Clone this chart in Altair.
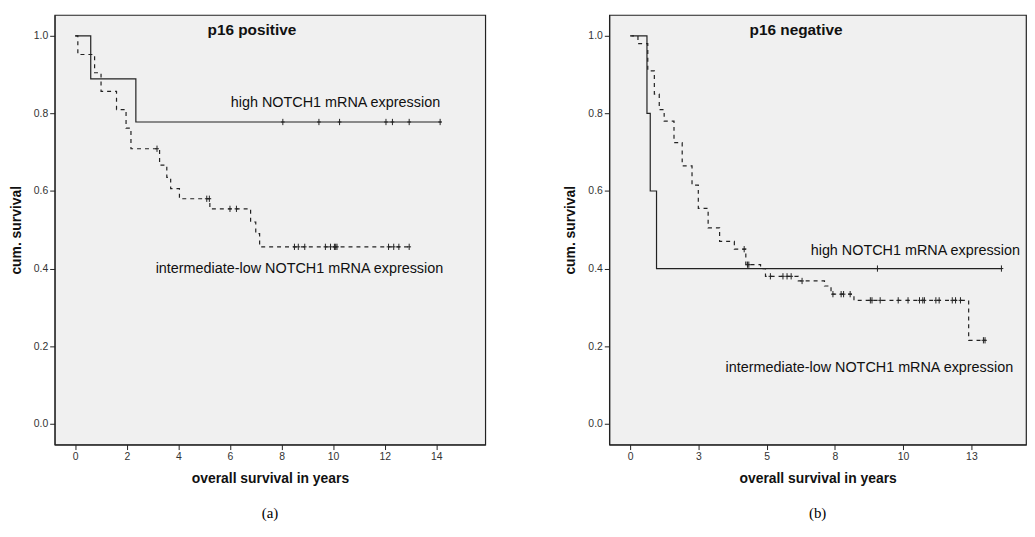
import altair as alt
import pandas as pd

# p16 positive
a_high_t = [0.0, 0.6, 2.35, 14.2]
a_high_s = [1.0, 0.889, 0.778, 0.778]
a_high_cens = [8.05, 9.45, 10.25, 12.05, 12.3, 12.95, 14.15]
a_low_t = [0.0, 0.1, 0.75, 1.0, 1.6, 1.97, 2.16, 3.27, 3.55, 3.7, 4.04, 5.22, 6.8, 7.0, 7.15, 12.95]
a_low_s = [1.0, 0.952, 0.905, 0.857, 0.81, 0.762, 0.709, 0.667, 0.635, 0.606, 0.58, 0.554, 0.52, 0.49, 0.456, 0.456]
a_low_cens = [3.17, 5.1, 5.2, 6.0, 6.25, 8.5, 8.65, 8.9, 9.7, 9.9, 10.05, 10.1, 10.15, 12.15, 12.35, 12.55, 12.95]
a_low_cens_s = [0.709, 0.58, 0.58, 0.554, 0.554] + [0.456] * 12

# p16 negative
b_high_t = [0.05, 0.62, 0.74, 0.97, 13.6]
b_high_s = [1.0, 0.8, 0.6, 0.4, 0.4]
b_high_cens = [9.06, 13.6]
b_low_t = [0.0, 0.29, 0.65, 0.89, 1.07, 1.25, 1.61, 1.91, 2.27, 2.5, 2.86, 3.28, 3.82, 4.24,
           4.78, 4.96, 6.16, 7.12, 7.36, 8.2, 12.4, 13.02]
b_low_s = [1.0, 0.98, 0.91, 0.85, 0.81, 0.78, 0.725, 0.665, 0.615, 0.555, 0.505, 0.47, 0.45, 0.41,
           0.40, 0.38, 0.368, 0.355, 0.334, 0.318, 0.215, 0.215]
b_low_cens = [4.18, 4.3, 4.35, 5.14, 5.6, 5.75, 5.9, 6.3, 7.43, 7.73, 7.82, 8.06, 8.8, 8.86, 9.16,
              9.82, 10.18, 10.6, 10.72, 10.78, 11.2, 11.32, 11.8, 11.92, 12.1, 12.94, 13.0]
b_low_cens_s = [0.45, 0.41, 0.41, 0.38, 0.38, 0.38, 0.38, 0.368, 0.334, 0.334, 0.334, 0.334] + [0.318] * 13 + [0.215, 0.215]

labels = {
    "a": [("p16 positive", 6.85, 1.015, "center", True),
          ("high NOTCH1 mRNA expression", 14.15, 0.826, "right", False),
          ("intermediate-low NOTCH1 mRNA expression", 14.27, 0.399, "right", False)],
    "b": [("p16 negative", 6.08, 1.015, "center", True),
          ("high NOTCH1 mRNA expression", 14.28, 0.445, "right", False),
          ("intermediate-low NOTCH1 mRNA expression", 14.03, 0.143, "right", False)],
}


def panel(name, ht, hs, hc, lt, ls, lc, lcs, xdom, ticks, width, caption):
    x = alt.X("t:Q", scale=alt.Scale(domain=xdom, nice=False, zero=False),
              axis=alt.Axis(values=ticks, format=".0f", title="overall survival in years"))
    y = alt.Y("s:Q", scale=alt.Scale(domain=[-0.054, 1.054], nice=False),
              axis=alt.Axis(values=[0, 0.2, 0.4, 0.6, 0.8, 1.0], format=".1f", title="cum. survival"))
    high = alt.Chart(pd.DataFrame({"t": ht, "s": hs})).mark_line(
        interpolate="step-after", color="#222", strokeWidth=1.2).encode(x=x, y=y)
    low = alt.Chart(pd.DataFrame({"t": lt, "s": ls})).mark_line(
        interpolate="step-after", color="#222", strokeWidth=1.2, strokeDash=[4, 4]).encode(x=x, y=y)
    cross = dict(shape="M0,-1V1M-0.6,0H0.6", filled=False, color="#222", strokeWidth=1, size=40, opacity=1)
    hcen = alt.Chart(pd.DataFrame({"t": hc, "s": [hs[-1]] * len(hc)})).mark_point(**cross).encode(x=x, y=y)
    lcen = alt.Chart(pd.DataFrame({"t": lc, "s": lcs})).mark_point(**cross).encode(x=x, y=y)
    layers = [high, low, hcen, lcen]
    for txt, tx, ty, al, bold in labels[name]:
        layers.append(alt.Chart(pd.DataFrame({"t": [tx], "s": [ty], "txt": [txt]})).mark_text(
            align=al, baseline="middle", font="Liberation Sans", fontSize=15.5 if bold else 14.5,
            fontWeight="bold" if bold else "normal", color="#111").encode(x=x, y=y, text="txt:N"))
    return alt.layer(*layers).properties(
        width=width, height=433,
        title=alt.TitleParams(caption, orient="bottom", font="Liberation Serif", fontSize=15,
                              fontWeight="normal", offset=20, color="#000"))


left = panel("a", a_high_t, a_high_s, a_high_cens, a_low_t, a_low_s, a_low_cens, a_low_cens_s,
             [-0.8, 15.9], [0, 2, 4, 6, 8, 10, 12, 14], 434, "(a)")
right = panel("b", b_high_t, b_high_s, b_high_cens, b_low_t, b_low_s, b_low_cens, b_low_cens_s,
              [-0.76, 14.5], [0, 2.5, 5, 7.5, 10, 12.5], 420, "(b)")

chart = alt.hconcat(left, right, spacing=77).properties(
    padding={"left": 0, "top": 4, "right": 0, "bottom": 0}, background="white"
).configure_view(fill="#f0f0f0", stroke="#222", strokeWidth=1.2).configure_axis(
    grid=False, domainColor="#222", tickColor="#222", tickSize=5,
    labelFont="Liberation Sans", labelFontSize=10.5, labelColor="#333",
    titleFont="Liberation Sans", titleFontSize=14, titleFontWeight="bold", titleColor="#111",
    titlePadding=10
)

chart.save("out.html", embed_options={"renderer": "svg", "actions": False})
